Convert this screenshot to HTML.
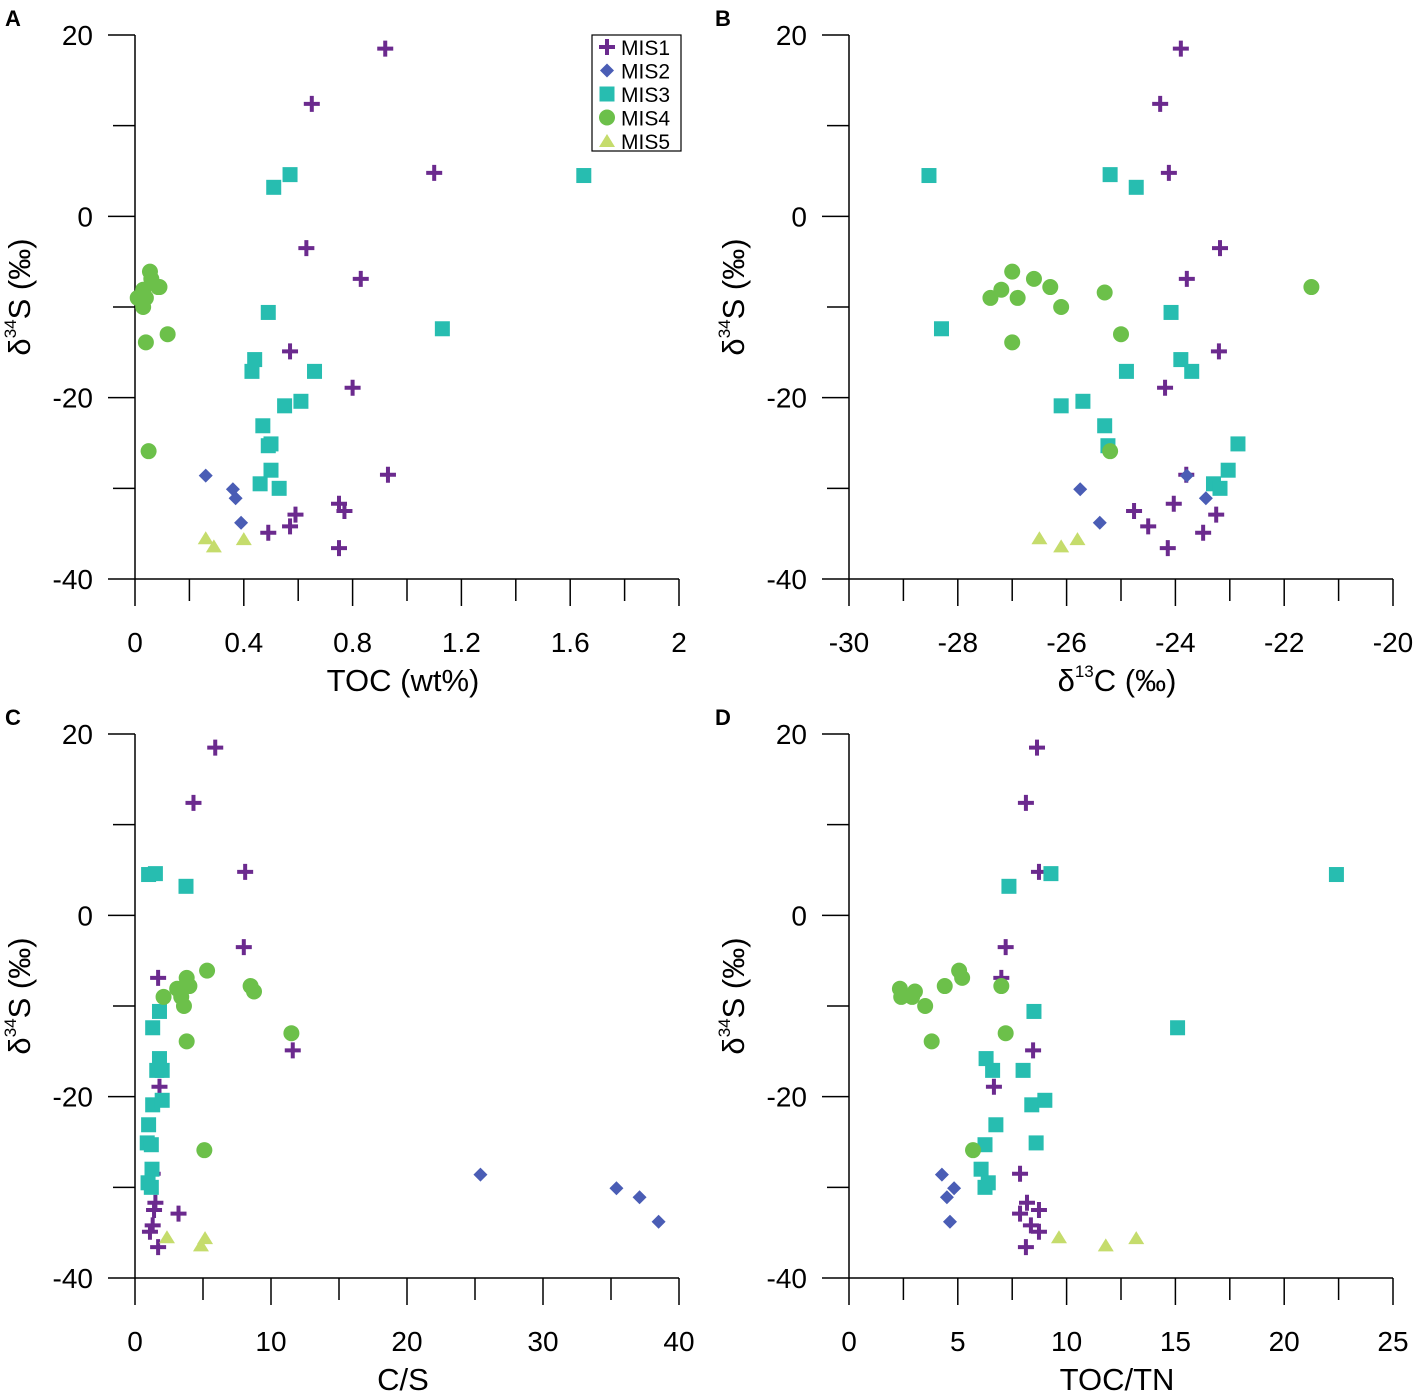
<!DOCTYPE html>
<html><head><meta charset="utf-8"><style>
html,body{margin:0;padding:0;background:#fff;}
svg{display:block;font-family:"Liberation Sans",Arial,sans-serif;}
</style></head><body>
<svg id="chart" width="1417" height="1392" viewBox="0 0 1417 1392" xmlns="http://www.w3.org/2000/svg"></svg>
<script>
// shared d34S values per series
const s1 = [18.5,12.4,4.8,-3.5,-6.9,-14.9,-18.9,-28.5,-31.7,-32.5,-32.9,-34.2,-34.9,-36.6];
const s2 = [-28.6,-30.1,-31.1,-33.8];
const s3 = [4.5,4.6,3.2,-12.4,-10.6,-15.8,-17.1,-17.1,-20.9,-20.4,-23.1,-25.1,-25.3,-28.0,-29.5,-30.0];
const s4 = [-6.1,-6.9,-7.8,-8.1,-7.8,-8.4,-9.0,-9.0,-10.0,-13.0,-13.9,-25.9];
const s5 = [-35.5,-36.4,-35.6];
// Panel A: TOC
const a1 = [0.92,0.65,1.10,0.63,0.83,0.57,0.80,0.93,0.75,0.77,0.59,0.57,0.49,0.75];
const a2 = [0.26,0.36,0.37,0.39];
const a3 = [1.65,0.57,0.51,1.13,0.49,0.44,0.43,0.66,0.55,0.61,0.47,0.50,0.49,0.50,0.46,0.53];
const a4 = [0.055,0.06,0.085,0.03,0.09,0.03,0.01,0.04,0.03,0.12,0.04,0.05];
const a5 = [0.26,0.29,0.40];
// Panel B: d13C
const b1 = [-23.9,-24.28,-24.12,-23.18,-23.79,-23.2,-24.19,-23.8,-24.03,-24.76,-23.25,-24.5,-23.49,-24.14];
const b2 = [-23.79,-25.75,-23.44,-25.39];
const b3 = [-28.53,-25.2,-24.72,-28.3,-24.08,-23.9,-24.9,-23.7,-26.1,-25.7,-25.3,-22.85,-25.24,-23.03,-23.3,-23.18];
const b4 = [-27.0,-26.6,-26.3,-27.2,-21.5,-25.3,-27.4,-26.9,-26.1,-25.0,-27.0,-25.2];
const b5 = [-26.5,-26.1,-25.8];
// Panel C: C/S
const c1 = [5.9,4.3,8.1,8.0,1.7,11.6,1.8,1.3,1.5,1.4,3.2,1.3,1.1,1.7];
const c2 = [25.4,35.4,37.1,38.5];
const c3 = [1.0,1.5,3.75,1.3,1.8,1.8,1.6,2.0,1.3,2.0,1.0,0.9,1.2,1.25,0.96,1.2];
const c4 = [5.3,3.8,8.5,3.1,4.0,8.75,2.1,3.4,3.6,11.5,3.8,5.1];
const c5 = [2.35,4.85,5.15];
// Panel D: TOC/TN
const d1 = [8.64,8.13,8.73,7.2,7.0,8.46,6.66,7.86,8.18,8.73,7.86,8.36,8.73,8.13];
const d2 = [4.27,4.83,4.5,4.64];
const d3 = [22.4,9.28,7.35,15.1,8.5,6.3,6.6,8.0,8.4,9.0,6.75,8.6,6.25,6.07,6.4,6.25];
const d4 = [5.06,5.2,4.4,2.34,7.0,3.03,2.4,2.9,3.5,7.2,3.8,5.7];
const d5 = [9.65,11.8,13.2];

const yTicks = [-40,-20,0,20];
const NS="http://www.w3.org/2000/svg";
const svg=document.getElementById('chart');
function mk(tag,attrs,parent){const e=document.createElementNS(NS,tag);for(const k in attrs)e.setAttribute(k,attrs[k]);(parent||svg).appendChild(e);return e;}
const colors={m1:'#6b2a8e',m2:'#4a5db5',m3:'#27bdb0',m4:'#6cc04a',m5:'#c5dc6c'};
function marker(g,type,x,y){
  let e;
  if(type===1){e=mk('path',{d:`M${x-8},${y}H${x+8}M${x},${y-8}V${y+8}`,stroke:colors.m1,'stroke-width':4,fill:'none'},g);}
  else if(type===2){e=mk('path',{d:`M${x},${y-7}L${x+7},${y}L${x},${y+7}L${x-7},${y}Z`,fill:colors.m2},g);}
  else if(type===3){e=mk('rect',{x:x-7.5,y:y-7.5,width:15,height:15,fill:colors.m3},g);}
  else if(type===4){e=mk('circle',{cx:x,cy:y,r:8,fill:colors.m4},g);}
  else {e=mk('path',{d:`M${x},${y-7}L${x+8},${y+6}L${x-8},${y+6}Z`,fill:colors.m5},g);}
  return e;
}
const panels=[
 {id:'a',letter:'A',lx:5,ox:135,oy:35,xmin:0,xmax:2,xt:[0,0.4,0.8,1.2,1.6,2],minor:0.2,title:'TOC (wt%)',xs:[a1,a2,a3,a4,a5]},
 {id:'b',letter:'B',lx:715,ox:849,oy:35,xmin:-30,xmax:-20,xt:[-30,-28,-26,-24,-22,-20],minor:1,title:'d13',xs:[b1,b2,b3,b4,b5]},
 {id:'c',letter:'C',lx:5,ox:135,oy:734,xmin:0,xmax:40,xt:[0,10,20,30,40],minor:5,title:'C/S',xs:[c1,c2,c3,c4,c5]},
 {id:'d',letter:'D',lx:715,ox:849,oy:734,xmin:0,xmax:25,xt:[0,5,10,15,20,25],minor:2.5,title:'TOC/TN',xs:[d1,d2,d3,d4,d5]}
];
const ys=[s1,s2,s3,s4,s5];
const W=544,H=544;
panels.forEach(p=>{
  const g=mk('g',{});
  
  
  const X=v=>p.ox+(v-p.xmin)/(p.xmax-p.xmin)*W;
  const Y=v=>p.oy+(20-v)/60*H;
  const lt=mk('text',{x:p.lx,y:p.oy-9,'font-size':22,'font-weight':'bold'},g);lt.textContent=p.letter;
  
  
  const ax=mk('path',{d:`M${p.ox},${p.oy}V${p.oy+H}H${p.ox+W}`,stroke:'#000','stroke-width':1.5,fill:'none'},g);
  
  
  for(let v=-40;v<=20;v+=10){
    const major=v%20===0;
    mk('line',{x1:p.ox-(major?27:22),x2:p.ox,y1:Y(v),y2:Y(v),stroke:'#000','stroke-width':1.5},g);
  }
  yTicks.forEach(v=>{const t=mk('text',{x:p.ox-42,y:Y(v)+10,'font-size':28,'text-anchor':'end'},g);t.textContent=v;
    
    });
  for(let v=p.xmin;v<=p.xmax+1e-9;v+=p.minor){
    const major=p.xt.some(t=>Math.abs(t-v)<1e-6);
    mk('line',{x1:X(v),x2:X(v),y1:p.oy+H,y2:p.oy+H+(major?27:22),stroke:'#000','stroke-width':1.5},g);
  }
  p.xt.forEach(v=>{const t=mk('text',{x:X(v),y:p.oy+H+73,'font-size':28,'text-anchor':'middle'},g);t.textContent=String(v);
    
    });
  const xt=mk('text',{x:p.ox+W/2-4,y:p.oy+H+112,'font-size':31,'text-anchor':'middle'},g);
  if(p.title==='d13'){xt.innerHTML='δ<tspan font-size="17" dy="-14">13</tspan><tspan dy="14">C (‰)</tspan>';}
  else xt.textContent=p.title;
  
  
  const cy=p.oy+H/2-10, cx=p.ox-105;
  const yt=mk('text',{x:cx,y:cy,'font-size':31,'text-anchor':'middle',transform:`rotate(-90 ${cx} ${cy})`},g);
  yt.innerHTML='δ<tspan font-size="17" dy="-14">34</tspan><tspan dy="14">S (‰)</tspan>';
  
  
  p.xs.forEach((arr,si)=>{
    const sg=mk('g',{},g);
    
    
    arr.forEach((v,i)=>{const m=marker(sg,si+1,X(v),Y(ys[si][i]));
      
      });
  });
  if(p.id==='a'){
    const lg=mk('g',{},g);
    
    
    mk('rect',{x:592,y:35,width:89,height:116,fill:'#fff',stroke:'#000','stroke-width':1.2},lg);
    ['MIS1','MIS2','MIS3','MIS4','MIS5'].forEach((n,i)=>{
      const yy=47+i*23.5;
      const e=mk('g',{},lg);
      
      
      marker(e,i+1,607,yy);
      const t=mk('text',{x:621,y:yy+8,'font-size':21},e);t.textContent=n;
    });
  }
});
</script>
</body></html>
